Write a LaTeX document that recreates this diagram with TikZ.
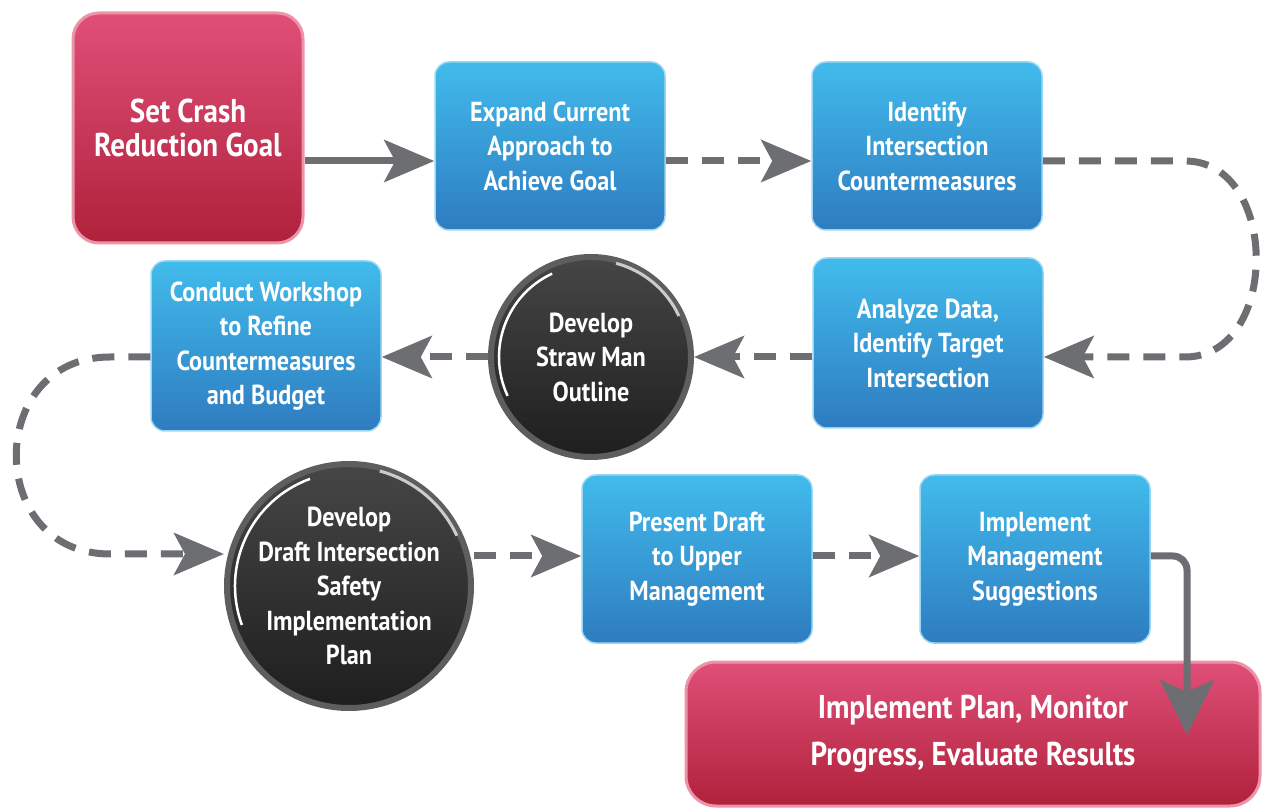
\documentclass[tikz,border=0pt]{standalone}
\usepackage{fontspec}
\newfontfamily\lab{PT Sans}[FakeStretch=0.88]
\usetikzlibrary{arrows.meta,calc,shapes.geometric}
\definecolor{lnc}{HTML}{6D6E71}
\definecolor{redT}{HTML}{E04F78}
\definecolor{redB}{HTML}{B0213B}
\definecolor{redE}{HTML}{EC93A8}
\definecolor{bluT}{HTML}{41BBEC}
\definecolor{bluB}{HTML}{2E7CC0}
\definecolor{bluE}{HTML}{9AD7F3}
\definecolor{cirT}{HTML}{464646}
\definecolor{cirB}{HTML}{1E1E1E}
\definecolor{cirE}{HTML}{5E5E5E}
\tikzset{
  txt/.style={text=white,font=\lab\bfseries\fontsize{27.5}{34.5}\selectfont,align=center},
  bluebox/.style={txt,rectangle,rounded corners=14pt,minimum width=230pt,minimum height=168pt,
    top color=bluT,bottom color=bluB,draw=bluE,line width=1.5pt,inner sep=0pt},
  redbox/.style={txt,rectangle,rounded corners=26pt,top color=redT,bottom color=redB,draw=redE,
    line width=3pt,inner sep=0pt},
  darkcirc/.style={txt,circle,top color=cirT,bottom color=cirB,draw=cirE,line width=6pt,inner sep=0pt},
  conn/.style={draw=lnc,line width=7pt,-{Stealth[length=50pt,width=42pt,inset=11pt]}},
  bigconn/.style={draw=lnc,line width=7pt,-{Stealth[length=55pt,width=54pt,inset=12pt]}},
  dconn/.style={conn,dash pattern=on 22pt off 14pt},
}
\begin{document}
\begin{tikzpicture}[x=1pt,y=1pt]
\useasboundingbox (0,0) rectangle (1262,807);
\coordinate (r1) at (0,646);
\coordinate (r2) at (0,450);
\coordinate (r3) at (0,251);
% nodes
\node[redbox,minimum width=230pt,minimum height=230pt,font=\lab\bfseries\fontsize{33}{34}\selectfont] (goal) at (188,679) {Set Crash\\Reduction Goal};
\node[bluebox] (expand) at (550,661) {Expand Current\\Approach to\\Achieve Goal};
\node[bluebox] (ident) at (927,661) {Identify\\Intersection\\Countermeasures};
\node[bluebox,minimum height=170pt] (analyze) at (928,464) {Analyze Data,\\Identify Target\\Intersection};
\node[darkcirc,minimum size=200pt] (straw) at (591,450) {Develop\\Straw Man\\Outline};
\node[bluebox,minimum height=170pt] (workshop) at (266,461) {Conduct Workshop\\to Refine\\Countermeasures\\and Budget};
\node[darkcirc,minimum size=244pt] (draft) at (349,221) {Develop\\Draft Intersection\\Safety\\Implementation\\Plan};
\node[bluebox] (present) at (697,248) {Present Draft\\to Upper\\Management};
\node[bluebox] (mgmt) at (1035,248) {Implement\\Management\\Suggestions};
\node[redbox,minimum width=574pt,minimum height=144pt,rounded corners=30pt,font=\lab\bfseries\fontsize{33}{47}\selectfont] (plan) at (973,73) {Implement Plan, Monitor\\Progress, Evaluate Results};
% circle highlights
\draw[white,line width=2.5pt] ($(straw.center)+(115:92)$) arc[start angle=115,end angle=205,radius=92];
\draw[white!60!gray,line width=3pt] ($(straw.center)+(25:97)$) arc[start angle=25,end angle=75,radius=97];
\draw[white,line width=2.5pt] ($(draft.center)+(110:114)$) arc[start angle=110,end angle=200,radius=114];
\draw[white!60!gray,line width=3pt] ($(draft.center)+(25:119)$) arc[start angle=25,end angle=75,radius=119];
% connectors
\coordinate (tipP) at (1187,72);
\draw[conn] (goal.east |- r1) -- (expand.west |- r1);
\draw[dconn] (expand.east |- r1) -- (ident.west |- r1);
\draw[dconn] (ident.east |- r1) -- (1185,646) .. controls (1280,646) and (1280,450) .. (1185,450) -- (analyze.east |- r2);
\draw[dconn] (analyze.west |- r2) -- (straw.east);
\draw[dconn] (straw.west) -- (workshop.east |- r2);
\draw[dconn] (workshop.west |- r2) -- (110,450) .. controls (-15,450) and (-15,253) .. (110,253) -- (draft.west |- 0,253);
\draw[dconn] (draft.east |- r3) -- (present.west |- r3);
\draw[dconn] (present.east |- r3) -- (mgmt.west |- r3);
\draw[bigconn,rounded corners=14pt] (mgmt.east |- r3) -| (tipP);
\end{tikzpicture}
\end{document}
